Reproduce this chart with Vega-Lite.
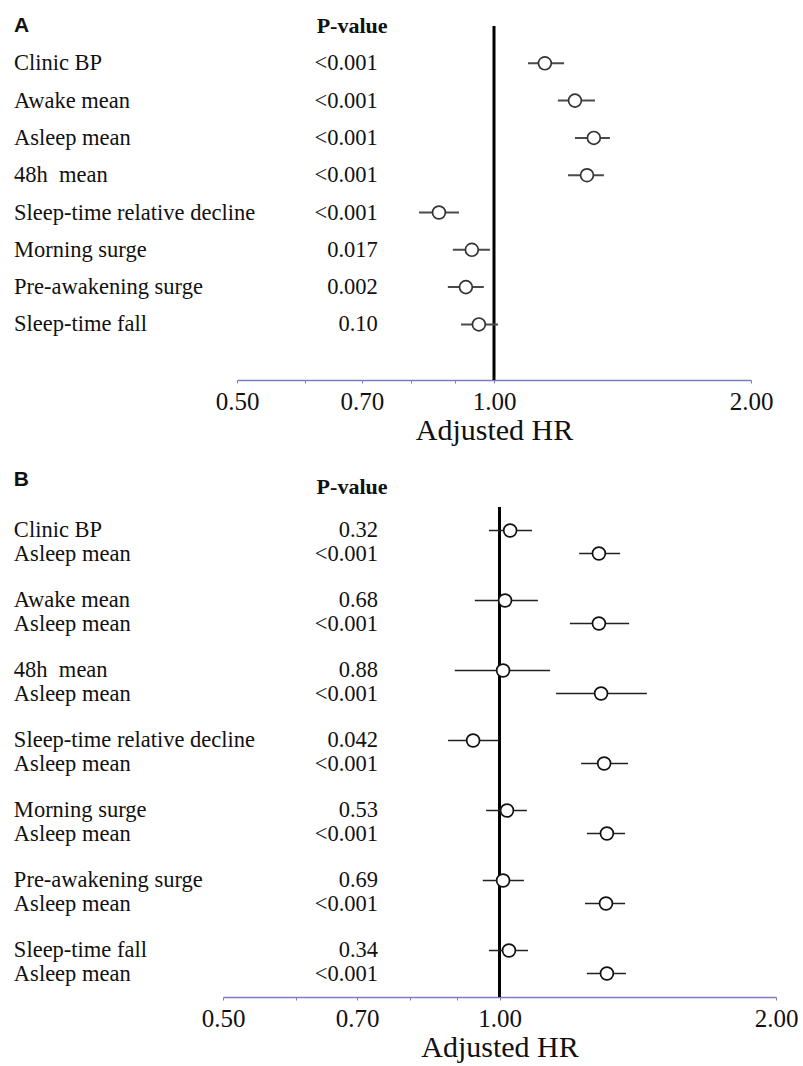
{
  "$schema": "https://vega.github.io/schema/vega-lite/v6.json",
  "background": "white",
  "padding": {"left": 13, "top": 15, "right": 5, "bottom": 2},
  "datasets": {
    "panelA": [
      {"label": "Clinic BP", "p": "<0.001", "hr": 1.147, "lo": 1.096, "hi": 1.208},
      {"label": "Awake mean", "p": "<0.001", "hr": 1.244, "lo": 1.188, "hi": 1.313},
      {"label": "Asleep mean", "p": "<0.001", "hr": 1.309, "lo": 1.244, "hi": 1.367},
      {"label": "48h\u00a0 mean", "p": "<0.001", "hr": 1.285, "lo": 1.221, "hi": 1.345},
      {"label": "Sleep-time relative decline", "p": "<0.001", "hr": 0.862, "lo": 0.817, "hi": 0.910},
      {"label": "Morning surge", "p": "0.017", "hr": 0.942, "lo": 0.895, "hi": 0.989},
      {"label": "Pre-awakening surge", "p": "0.002", "hr": 0.927, "lo": 0.883, "hi": 0.973},
      {"label": "Sleep-time fall", "p": "0.10", "hr": 0.960, "lo": 0.915, "hi": 1.011}
    ],
    "panelB": [
      {"pair": "Clinic BP", "role": "Tested", "label": "Clinic BP", "p": "0.32", "hr": 1.027, "lo": 0.974, "hi": 1.085},
      {"pair": "Clinic BP", "role": "Asleep", "label": "Asleep mean", "p": "<0.001", "hr": 1.283, "lo": 1.221, "hi": 1.353},
      {"pair": "Awake mean", "role": "Tested", "label": "Awake mean", "p": "0.68", "hr": 1.014, "lo": 0.940, "hi": 1.101},
      {"pair": "Awake mean", "role": "Asleep", "label": "Asleep mean", "p": "<0.001", "hr": 1.283, "lo": 1.193, "hi": 1.384},
      {"pair": "48h mean", "role": "Tested", "label": "48h\u00a0 mean", "p": "0.88", "hr": 1.009, "lo": 0.894, "hi": 1.135},
      {"pair": "48h mean", "role": "Asleep", "label": "Asleep mean", "p": "<0.001", "hr": 1.290, "lo": 1.152, "hi": 1.447},
      {"pair": "Sleep-time relative decline", "role": "Tested", "label": "Sleep-time relative decline", "p": "0.042", "hr": 0.936, "lo": 0.879, "hi": 0.999},
      {"pair": "Sleep-time relative decline", "role": "Asleep", "label": "Asleep mean", "p": "<0.001", "hr": 1.300, "lo": 1.227, "hi": 1.380},
      {"pair": "Morning surge", "role": "Tested", "label": "Morning surge", "p": "0.53", "hr": 1.019, "lo": 0.967, "hi": 1.071},
      {"pair": "Morning surge", "role": "Asleep", "label": "Asleep mean", "p": "<0.001", "hr": 1.309, "lo": 1.245, "hi": 1.370},
      {"pair": "Pre-awakening surge", "role": "Tested", "label": "Pre-awakening surge", "p": "0.69", "hr": 1.009, "lo": 0.959, "hi": 1.063},
      {"pair": "Pre-awakening surge", "role": "Asleep", "label": "Asleep mean", "p": "<0.001", "hr": 1.306, "lo": 1.239, "hi": 1.370},
      {"pair": "Sleep-time fall", "role": "Tested", "label": "Sleep-time fall", "p": "0.34", "hr": 1.024, "lo": 0.974, "hi": 1.074},
      {"pair": "Sleep-time fall", "role": "Asleep", "label": "Asleep mean", "p": "<0.001", "hr": 1.309, "lo": 1.245, "hi": 1.373}
    ]
  },
  "bounds": "flush",
  "spacing": 57,
  "vconcat": [
    {
      "width": 553,
      "height": 354,
      "layer": [
        {
          "data": {"values": [{"reference": 1}]},
          "mark": {"type": "rule", "color": "#000", "strokeWidth": 3},
          "encoding": {
            "x": {"field": "reference", "type": "quantitative", "title": "Adjusted HR", "scale": {"type": "log", "domain": [0.5, 2], "range": [14, 528], "nice": false},
              "axis": {"values": [0.5, 0.6, 0.7, 0.8, 0.9, 1, 2], "labelExpr": "datum.value == 0.6 || datum.value == 0.8 || datum.value == 0.9 ? '' : format(datum.value, '.2f')", "title": "Adjusted HR", "titleFont": "Liberation Serif", "titleFontSize": 30, "titleFontWeight": "normal", "titleColor": "#111", "titlePadding": 1, "labelOverlap": false, "labelFlush": false}}
          }
        },
        {
          "data": {"name": "panelA"},
          "mark": {"type": "rule", "color": "#4a4a4a", "strokeWidth": 2},
          "encoding": {
            "x": {"field": "lo", "type": "quantitative", "title": "Adjusted HR"},
            "x2": {"field": "hi"},
            "y": {"field": "label", "type": "nominal", "axis": null, "scale": {"type": "point", "domain": ["P-value", "Clinic BP", "Awake mean", "Asleep mean", "48h\u00a0 mean", "Sleep-time relative decline", "Morning surge", "Pre-awakening surge", "Sleep-time fall"], "padding": 0.745, "align": 0}}
          }
        },
        {
          "data": {"name": "panelA"},
          "mark": {"type": "point", "shape": "circle", "filled": true, "fill": "white", "stroke": "#333", "strokeWidth": 1.7, "size": 165, "opacity": 1},
          "encoding": {
            "x": {"field": "hr", "type": "quantitative", "title": "Adjusted HR"},
            "y": {"field": "label", "type": "nominal", "axis": null}
          }
        },
        {
          "data": {"name": "panelA"},
          "mark": {"type": "text", "align": "left", "baseline": "middle", "font": "Liberation Serif", "fontSize": 22.5, "color": "#111"},
          "encoding": {
            "x": {"datum": 0.274, "type": "quantitative", "title": "Adjusted HR"},
            "y": {"field": "label", "type": "nominal", "axis": null},
            "text": {"field": "label"}
          }
        },
        {
          "data": {"name": "panelA"},
          "mark": {"type": "text", "align": "right", "baseline": "middle", "font": "Liberation Serif", "fontSize": 22.5, "color": "#111"},
          "encoding": {
            "x": {"datum": 0.731, "type": "quantitative", "title": "Adjusted HR"},
            "y": {"field": "label", "type": "nominal", "axis": null},
            "text": {"field": "p"}
          }
        },
        {
          "data": {"values": [{"panel": "A", "column": "P-value"}]},
          "mark": {"type": "text", "align": "center", "baseline": "middle", "font": "Liberation Serif", "fontWeight": "bold", "fontSize": 22, "color": "#111"},
          "encoding": {
            "x": {"datum": 0.682, "type": "quantitative", "title": "Adjusted HR"},
            "y": {"datum": "P-value", "type": "nominal", "axis": null},
            "text": {"field": "column"}
          }
        },
        {
          "data": {"values": [{"panel": "A", "column": "P-value"}]},
          "mark": {"type": "text", "align": "left", "baseline": "middle", "font": "Liberation Sans", "fontWeight": "bold", "fontSize": 21, "color": "#111"},
          "encoding": {
            "x": {"datum": 0.274, "type": "quantitative", "title": "Adjusted HR"},
            "y": {"datum": "P-value", "type": "nominal", "axis": null},
            "text": {"field": "panel"}
          }
        }
      ]
    },
    {
      "width": 553,
      "height": 560,
      "layer": [
        {
          "data": {"values": [{"reference": 1}]},
          "mark": {"type": "rule", "color": "#000", "strokeWidth": 3},
          "encoding": {
            "x": {"field": "reference", "type": "quantitative", "title": "Adjusted HR", "scale": {"type": "log", "domain": [0.5, 2], "nice": false},
              "axis": {"values": [0.5, 0.6, 0.7, 0.8, 0.9, 1, 2], "labelExpr": "datum.value == 0.6 || datum.value == 0.8 || datum.value == 0.9 ? '' : format(datum.value, '.2f')", "title": "Adjusted HR", "titleFont": "Liberation Serif", "titleFontSize": 30, "titleFontWeight": "normal", "titleColor": "#111", "titlePadding": 1, "labelOverlap": false, "labelFlush": false}},
            "y": {"datum": "Clinic BP", "type": "nominal", "bandPosition": 0, "axis": null},
            "y2": {"value": "height"}
          }
        },
        {
          "data": {"name": "panelB"},
          "mark": {"type": "rule", "color": "#222", "strokeWidth": 1.6},
          "encoding": {
            "x": {"field": "lo", "type": "quantitative", "title": "Adjusted HR"},
            "x2": {"field": "hi"},
            "y": {"field": "pair", "type": "nominal", "axis": null, "scale": {"type": "band", "domain": ["P-value", "Clinic BP", "Awake mean", "48h mean", "Sleep-time relative decline", "Morning surge", "Pre-awakening surge", "Sleep-time fall"], "paddingInner": 0, "paddingOuter": 0}},
            "yOffset": {"field": "role", "type": "nominal", "scale": {"domain": ["Tested", "Asleep"], "paddingInner": 0, "paddingOuter": 0.52}}
          }
        },
        {
          "data": {"name": "panelB"},
          "mark": {"type": "point", "shape": "circle", "filled": true, "fill": "white", "stroke": "#111", "strokeWidth": 1.7, "size": 165, "opacity": 1},
          "encoding": {
            "x": {"field": "hr", "type": "quantitative", "title": "Adjusted HR"},
            "y": {"field": "pair", "type": "nominal", "axis": null},
            "yOffset": {"field": "role", "type": "nominal"}
          }
        },
        {
          "data": {"name": "panelB"},
          "mark": {"type": "text", "align": "left", "baseline": "middle", "font": "Liberation Serif", "fontSize": 22.5, "color": "#111"},
          "encoding": {
            "x": {"datum": 0.296, "type": "quantitative", "title": "Adjusted HR"},
            "y": {"field": "pair", "type": "nominal", "axis": null},
            "yOffset": {"field": "role", "type": "nominal"},
            "text": {"field": "label"}
          }
        },
        {
          "data": {"name": "panelB"},
          "mark": {"type": "text", "align": "right", "baseline": "middle", "font": "Liberation Serif", "fontSize": 22.5, "color": "#111"},
          "encoding": {
            "x": {"datum": 0.7375, "type": "quantitative", "title": "Adjusted HR"},
            "y": {"field": "pair", "type": "nominal", "axis": null},
            "yOffset": {"field": "role", "type": "nominal"},
            "text": {"field": "p"}
          }
        },
        {
          "data": {"values": [{"panel": "B", "column": "P-value"}]},
          "mark": {"type": "text", "align": "center", "baseline": "middle", "font": "Liberation Serif", "fontWeight": "bold", "fontSize": 22, "color": "#111"},
          "encoding": {
            "x": {"datum": 0.691, "type": "quantitative", "title": "Adjusted HR"},
            "y": {"datum": "P-value", "type": "nominal", "bandPosition": 0.71, "axis": null},
            "text": {"field": "column"}
          }
        },
        {
          "data": {"values": [{"panel": "B", "column": "P-value"}]},
          "mark": {"type": "text", "align": "left", "baseline": "middle", "font": "Liberation Sans", "fontWeight": "bold", "fontSize": 21, "color": "#111"},
          "encoding": {
            "x": {"datum": 0.296, "type": "quantitative", "title": "Adjusted HR"},
            "y": {"datum": "P-value", "type": "nominal", "bandPosition": 0.61, "axis": null},
            "text": {"field": "panel"}
          }
        }
      ]
    }
  ],
  "config": {
    "view": {"stroke": null},
    "axis": {
      "grid": false,
      "domainColor": "#7c7cc2",
      "domainWidth": 1.5,
      "tickColor": "#7c7cc2",
      "tickSize": 3,
      "tickWidth": 1,
      "labelFont": "Liberation Serif",
      "labelFontSize": 25,
      "labelColor": "#111",
      "labelPadding": 6,
      "titleFont": "Liberation Serif",
      "titleFontSize": 30,
      "titleFontWeight": "normal",
      "titleColor": "#111",
      "titlePadding": 1
    }
  }
}
